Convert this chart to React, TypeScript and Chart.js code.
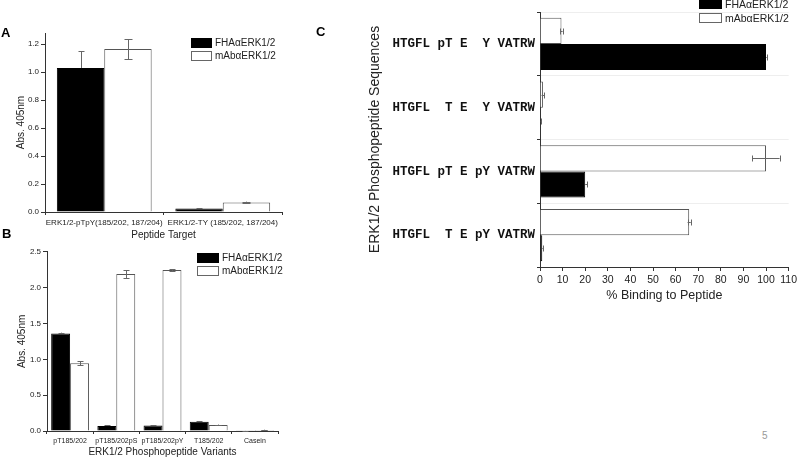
import React, { useEffect, useRef } from "react";
import { Chart, registerables } from "chart.js";

Chart.register(...registerables);

const SANS = "'Liberation Sans', Arial, sans-serif";
const MONO = "'Liberation Mono', 'Courier New', monospace";
Chart.defaults.font.family = SANS;

// ---------- Panel A ----------
const aCategories = ["ERK1/2-pTpY(185/202, 187/204)", "ERK1/2-TY (185/202, 187/204)"];
const aFHA = [1.03, 0.025];
const aFHAErr = [0.12, 0.003];
const aMAb = [1.165, 0.068];
const aMAbErr = [0.072, 0.006];

// ---------- Panel B ----------
const bCategories = ["pT185/202", "pT185/202pS", "pT185/202pY", "T185/202", "Casein"];
const bFHA = [1.36, 0.07, 0.075, 0.13, 0.003];
const bFHAErr = [0.012, 0.01, 0.008, 0.006, 0.001];
const bMAb = [0.945, 2.19, 2.245, 0.085, 0.015];
const bMAbErr = [0.025, 0.055, 0.015, 0.005, 0.003];

// ---------- Panel C ----------
const cCategories = [
  "HTGFL pT E  Y VATRW",
  "HTGFL  T E  Y VATRW",
  "HTGFL pT E pY VATRW",
  "HTGFL  T E pY VATRW",
];
const cFHA = [100, 0.2, 20, 1];
const cFHAErr = [0.3, 0.1, 0.8, 0.3];
const cMAb = [9.5, 1.3, 100, 66];
const cMAbErr = [0.5, 0.6, 6, 0.7];

const seriesNames = ["FHAαERK1/2", "mAbαERK1/2"];

const errorBarPlugin = {
  id: "errorBars",
  afterDatasetsDraw(chart: any) {
    const ctx = chart.ctx;
    const horizontal = chart.options.indexAxis === "y";
    const vScale = horizontal ? chart.scales.x : chart.scales.y;
    chart.data.datasets.forEach((ds: any, di: number) => {
      const errs = ds.errors;
      if (!errs) return;
      const meta = chart.getDatasetMeta(di);
      ctx.save();
      ctx.strokeStyle = ds.errorColor || "#666";
      ctx.lineWidth = 1;
      const cap = ds.capSize || 3;
      meta.data.forEach((el: any, i: number) => {
        const v = ds.data[i];
        const e = errs[i];
        const hi = vScale.getPixelForValue(v + e);
        const lo = ds.oneSided ? vScale.getPixelForValue(v) : vScale.getPixelForValue(v - e);
        ctx.beginPath();
        if (horizontal) {
          const y = Math.round(el.y) + 0.5;
          ctx.moveTo(lo, y);
          ctx.lineTo(hi, y);
          ctx.moveTo(Math.round(hi) + 0.5, y - cap);
          ctx.lineTo(Math.round(hi) + 0.5, y + cap);
          if (!ds.oneSided) {
            ctx.moveTo(Math.round(lo) + 0.5, y - cap);
            ctx.lineTo(Math.round(lo) + 0.5, y + cap);
          }
        } else {
          const x = Math.round(el.x) + 0.5;
          ctx.moveTo(x, lo);
          ctx.lineTo(x, hi);
          ctx.moveTo(x - cap, Math.round(hi) + 0.5);
          ctx.lineTo(x + cap, Math.round(hi) + 0.5);
          if (!ds.oneSided) {
            ctx.moveTo(x - cap, Math.round(lo) + 0.5);
            ctx.lineTo(x + cap, Math.round(lo) + 0.5);
          }
        }
        ctx.stroke();
      });
      ctx.restore();
    });
  },
};

const AXIS = "#333";
const TEXT = "#222";

function configA(): any {
  return {
    type: "bar",
    data: {
      labels: aCategories,
      datasets: [
        { label: seriesNames[0], data: aFHA, errors: aFHAErr, oneSided: true, backgroundColor: "#000", borderColor: "#000", borderWidth: 1, categoryPercentage: 0.8, barPercentage: 1, capSize: 3 },
        { label: seriesNames[1], data: aMAb, errors: aMAbErr, backgroundColor: "#fff", borderColor: "#555", borderWidth: 1, categoryPercentage: 0.8, barPercentage: 1, capSize: 4 },
      ],
    },
    options: {
      responsive: false,
      animation: false,
      layout: { padding: { top: 13, right: 18, left: 0, bottom: 0 } },
      plugins: { legend: { display: false }, tooltip: { enabled: false } },
      scales: {
        x: {
          grid: { drawOnChartArea: false, offset: true, tickLength: 3, color: AXIS, tickColor: AXIS },
          border: { color: AXIS, width: 1 },
          ticks: { color: TEXT, font: { size: 8 }, padding: 3, maxRotation: 0, autoSkip: false },
          title: { display: true, text: "Peptide Target", color: TEXT, font: { size: 10 }, padding: { top: 0, bottom: 4 } },
          afterFit: (s: any) => { s.height = 33; },
        },
        y: {
          min: 0,
          max: 1.28,
          grid: { drawOnChartArea: false, tickLength: 4, color: AXIS, tickColor: AXIS },
          border: { color: AXIS, width: 1 },
          ticks: { stepSize: 0.2, includeBounds: false, color: TEXT, font: { size: 8 }, padding: 2, callback: (v: any) => Number(v).toFixed(1) },
          title: { display: true, text: "Abs. 405nm", color: TEXT, font: { size: 10 }, padding: { top: 15.5, bottom: 0 } },
          afterFit: (s: any) => { s.width = 45; },
        },
      },
    },
    plugins: [errorBarPlugin],
  };
}

function configB(): any {
  return {
    type: "bar",
    data: {
      labels: bCategories,
      datasets: [
        { label: seriesNames[0], data: bFHA, errors: bFHAErr, oneSided: true, backgroundColor: "#000", borderColor: "#000", borderWidth: 1, categoryPercentage: 0.82, barPercentage: 1, capSize: 3 },
        { label: seriesNames[1], data: bMAb, errors: bMAbErr, backgroundColor: "#fff", borderColor: "#555", borderWidth: 1, categoryPercentage: 0.82, barPercentage: 1, capSize: 3 },
      ],
    },
    options: {
      responsive: false,
      animation: false,
      layout: { padding: { top: 6.7, right: 22, left: 0, bottom: 0 } },
      plugins: { legend: { display: false }, tooltip: { enabled: false } },
      scales: {
        x: {
          grid: { drawOnChartArea: false, offset: true, tickLength: 3, color: AXIS, tickColor: AXIS },
          border: { color: AXIS, width: 1 },
          ticks: { color: TEXT, font: { size: 7 }, padding: 3, maxRotation: 0, autoSkip: false },
          title: { display: true, text: "ERK1/2 Phosphopeptide Variants", color: TEXT, font: { size: 10 }, padding: { top: 0, bottom: 0 } },
          afterFit: (s: any) => { s.height = 27; },
        },
        y: {
          min: 0,
          max: 2.5,
          grid: { drawOnChartArea: false, tickLength: 4, color: AXIS, tickColor: AXIS },
          border: { color: AXIS, width: 1 },
          ticks: { stepSize: 0.5, color: TEXT, font: { size: 8 }, padding: 2, callback: (v: any) => Number(v).toFixed(1) },
          title: { display: true, text: "Abs. 405nm", color: TEXT, font: { size: 10 }, padding: { top: 16, bottom: 0 } },
          afterFit: (s: any) => { s.width = 47; },
        },
      },
    },
    plugins: [errorBarPlugin],
  };
}

function configC(): any {
  return {
    type: "bar",
    data: {
      labels: cCategories,
      datasets: [
        { label: seriesNames[1], data: cMAb, errors: cMAbErr, backgroundColor: "#fff", borderColor: "#555", borderWidth: 1, categoryPercentage: 0.82, barPercentage: 1, capSize: 3 },
        { label: seriesNames[0], data: cFHA, errors: cFHAErr, oneSided: true, backgroundColor: "#000", borderColor: "#000", borderWidth: 1, categoryPercentage: 0.82, barPercentage: 1, capSize: 3 },
      ],
    },
    options: {
      indexAxis: "y",
      responsive: false,
      animation: false,
      layout: { padding: { top: 12, right: 9, left: 0, bottom: 0 } },
      plugins: { legend: { display: false }, tooltip: { enabled: false } },
      scales: {
        x: {
          min: 0,
          max: 110,
          grid: { drawOnChartArea: false, tickLength: 4, color: AXIS, tickColor: AXIS },
          border: { color: AXIS, width: 1 },
          ticks: { stepSize: 10, color: TEXT, font: { size: 10.5 }, padding: 3, maxRotation: 0, autoSkip: false },
          title: { display: true, text: "% Binding to Peptide", color: TEXT, font: { size: 12.5 }, padding: { top: 0, bottom: 6.5 } },
          afterFit: (s: any) => { s.height = 43; },
        },
        y: {
          grid: { drawOnChartArea: true, offset: true, tickLength: 3, color: "#eeeeee", tickColor: AXIS },
          border: { color: AXIS, width: 1 },
          ticks: { color: "#111", font: { size: 12.5, family: MONO, weight: "bold" }, padding: 2, autoSkip: false },
          title: { display: true, text: "ERK1/2 Phosphopeptide Sequences", color: TEXT, font: { size: 14 }, padding: { top: 6.6, bottom: 0 } },
          afterFit: (s: any) => { s.width = 180; },
        },
      },
    },
    plugins: [errorBarPlugin],
  };
}

function ChartBox(props: { left: number; top: number; width: number; height: number; config: () => any }) {
  const ref = useRef<HTMLCanvasElement>(null);
  useEffect(() => {
    const chart = new Chart(ref.current as HTMLCanvasElement, props.config());
    return () => chart.destroy();
  }, []);
  return (
    <canvas
      ref={ref}
      width={props.width}
      height={props.height}
      style={{ position: "absolute", left: props.left, top: props.top, width: props.width, height: props.height }}
    />
  );
}

function Legend(props: { left: number; top: number; gap: number; boxW: number; boxH: number; fontSize: number; textDx: number }) {
  const { left, top, gap, boxW, boxH, fontSize, textDx } = props;
  const items = [
    { name: seriesNames[0], fill: "#000", border: "#000" },
    { name: seriesNames[1], fill: "#fff", border: "#666" },
  ];
  return (
    <>
      {items.map((it, i) => (
        <React.Fragment key={i}>
          <div
            style={{
              position: "absolute",
              left,
              top: top + i * gap,
              width: boxW,
              height: boxH,
              boxSizing: "border-box",
              background: it.fill,
              border: `1px solid ${it.border}`,
            }}
          />
          <div
            style={{
              position: "absolute",
              left: left + boxW + textDx,
              top: top + i * gap + boxH / 2 - 7,
              height: 14,
              lineHeight: "14px",
              fontSize,
              fontFamily: SANS,
              color: TEXT,
              whiteSpace: "nowrap",
            }}
          >
            {it.name}
          </div>
        </React.Fragment>
      ))}
    </>
  );
}

const panelLetter: React.CSSProperties = {
  position: "absolute",
  fontFamily: SANS,
  fontWeight: "bold",
  fontSize: 13,
  lineHeight: "14px",
  color: "#000",
};

export default function App() {
  return (
    <div
      style={{
        position: "fixed",
        left: 0,
        top: 0,
        width: 800,
        height: 458,
        background: "#fff",
        overflow: "hidden",
      }}
    >
      <ChartBox left={0} top={20} width={300} height={225} config={configA} />
      <ChartBox left={0} top={245} width={300} height={213} config={configB} />
      <ChartBox left={360} top={0} width={440} height={310} config={configC} />

      <Legend left={191} top={38} gap={13} boxW={21} boxH={10} fontSize={10} textDx={3} />
      <Legend left={197} top={253} gap={13} boxW={22} boxH={10} fontSize={10} textDx={3} />
      <Legend left={699} top={-1} gap={14} boxW={23} boxH={10} fontSize={10.5} textDx={3} />

      <div style={{ ...panelLetter, left: 1, top: 26 }}>A</div>
      <div style={{ ...panelLetter, left: 2, top: 227 }}>B</div>
      <div style={{ ...panelLetter, left: 316, top: 25 }}>C</div>

      <div
        style={{
          position: "absolute",
          left: 762,
          top: 430,
          fontFamily: SANS,
          fontSize: 10,
          lineHeight: "12px",
          color: "#999",
        }}
      >
        5
      </div>
    </div>
  );
}
